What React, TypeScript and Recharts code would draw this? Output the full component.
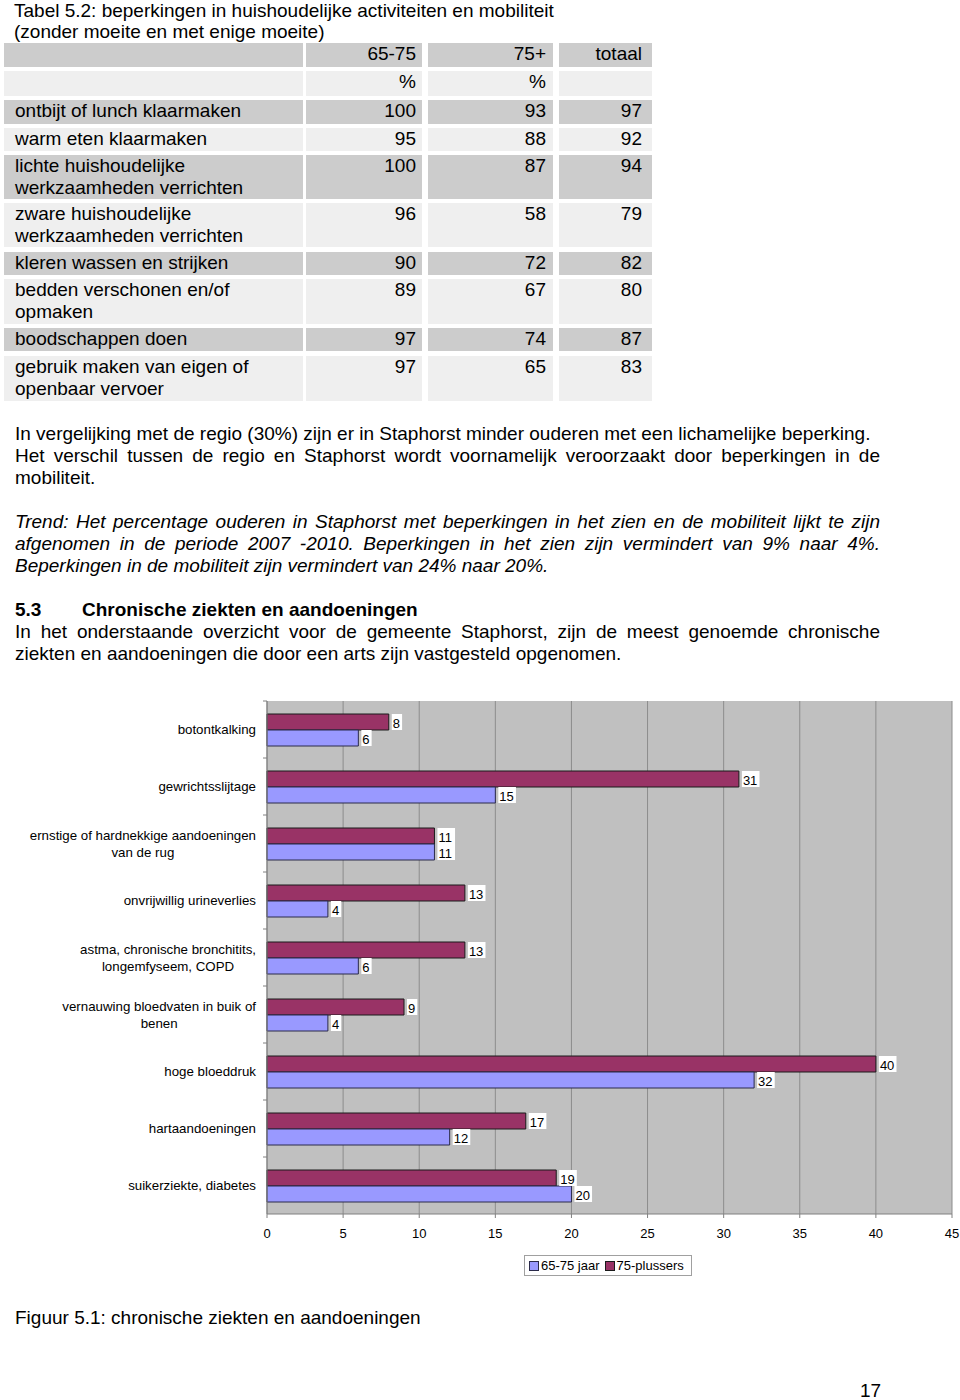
import React from "react";
import { BarChart, Bar, XAxis, YAxis, CartesianGrid, LabelList } from "recharts";

// chart data (figuur 5.1)
const categories = [
  "botontkalking",
  "gewrichtsslijtage",
  "ernstige of hardnekkige aandoeningen\nvan de rug",
  "onvrijwillig urineverlies",
  "astma, chronische bronchitits,\nlongemfyseem, COPD",
  "vernauwing bloedvaten in buik of\nbenen",
  "hoge bloeddruk",
  "hartaandoeningen",
  "suikerziekte, diabetes",
];
const age6575 = [6, 15, 11, 4, 6, 4, 32, 12, 20];
const plus75 = [8, 31, 11, 13, 13, 9, 40, 17, 19];
const xTicks = [0, 5, 10, 15, 20, 25, 30, 35, 40, 45];

// tabel 5.2
const tableHeader = ["", "65-75", "75+", "totaal"];
const tableUnits = ["", "%", "%", ""];
const tableLabels = [
  "ontbijt of lunch klaarmaken",
  "warm eten klaarmaken",
  "lichte huishoudelijke\nwerkzaamheden verrichten",
  "zware huishoudelijke\nwerkzaamheden verrichten",
  "kleren wassen en strijken",
  "bedden verschonen en/of\nopmaken",
  "boodschappen doen",
  "gebruik maken van eigen of\nopenbaar vervoer",
];
const table6575 = [100, 95, 100, 96, 90, 89, 97, 97];
const table75 = [93, 88, 87, 58, 72, 67, 74, 65];
const tableTotal = [97, 92, 94, 79, 82, 80, 87, 83];

const chartData = categories.map((name, i) => ({
  name,
  age6575: age6575[i],
  plus75: plus75[i],
}));

const FONT = '"Liberation Sans", Arial, Helvetica, sans-serif';
const MAROON = "#993366";
const BLUE = "#9999ff";
const TEXT_SIZE = 19;

// layout of the table cells (page pixels)
const cols = [
  { left: 4, width: 299, pad: 11, align: "left" as const },
  { left: 306, width: 116, pad: 6, align: "right" as const },
  { left: 428, width: 125, pad: 7, align: "right" as const },
  { left: 559, width: 93, pad: 10, align: "right" as const },
];
const rows = [
  { top: 43, h: 24 },
  { top: 71, h: 25 },
  { top: 100, h: 24 },
  { top: 128, h: 23 },
  { top: 155, h: 44 },
  { top: 203, h: 44 },
  { top: 252, h: 23 },
  { top: 279, h: 45 },
  { top: 328, h: 23 },
  { top: 356, h: 45 },
];

let measureCtx: CanvasRenderingContext2D | null = null;
function textWidth(s: string) {
  if (!measureCtx) {
    measureCtx = document.createElement("canvas").getContext("2d");
  }
  if (!measureCtx) return s.length * 6.5;
  measureCtx.font = `13.3px ${FONT}`;
  return measureCtx.measureText(s).width;
}

function CategoryTick(props: any) {
  const { x, y, payload } = props;
  const lines = String(payload.value).split("\n");
  const maxW = Math.max(...lines.map(textWidth));
  const cx = x - 3 - maxW / 2;
  const lh = 17;
  const start = y - ((lines.length - 1) * lh) / 2;
  return (
    <g>
      <line x1={x + 4} x2={x + 8} y1={y - 28.5} y2={y - 28.5} stroke="#808080" />
      {lines.map((l, i) => (
        <text
          key={i}
          x={cx}
          y={start + i * lh}
          textAnchor="middle"
          dominantBaseline="central"
          fontSize={13.3}
          fontFamily={FONT}
          fill="#000"
        >
          {l}
        </text>
      ))}
    </g>
  );
}

function ValueLabel(props: any) {
  const { x, y, width, height, value } = props;
  const s = String(value);
  const w = s.length * 7.3 + 3;
  const bx = x + width + 3;
  return (
    <g>
      <rect x={bx} y={y} width={w} height={height} fill="#fff" />
      <text
        x={bx + 1}
        y={y + height / 2 + 1}
        dominantBaseline="central"
        fontSize={13}
        fontFamily={FONT}
        fill="#000"
      >
        {s}
      </text>
    </g>
  );
}

function Cell({ row, col, text, fill }: { row: number; col: number; text: string; fill: string }) {
  const r = rows[row];
  const c = cols[col];
  return (
    <div
      style={{
        position: "absolute",
        left: c.left,
        top: r.top,
        width: c.width,
        height: r.h,
        background: fill,
        boxSizing: "border-box",
        paddingLeft: c.align === "left" ? c.pad : 0,
        paddingRight: c.align === "right" ? c.pad : 0,
        paddingTop: 0,
        textAlign: c.align,
        fontSize: TEXT_SIZE,
        lineHeight: "22px",
        whiteSpace: "pre",
      }}
    >
      {text}
    </div>
  );
}

function Line({ top, text, justify, italic, bold }: any) {
  return (
    <div
      style={{
        position: "absolute",
        left: 15,
        top,
        width: 865,
        fontSize: TEXT_SIZE,
        lineHeight: "22px",
        whiteSpace: "nowrap",
        textAlign: justify ? "justify" : "left",
        textAlignLast: justify ? "justify" : "left",
        fontStyle: italic ? "italic" : "normal",
        fontWeight: bold ? "bold" : "normal",
      }}
    >
      {text}
    </div>
  );
}

export default function App() {
  const gray = "#cccccc";
  const light = "#efefef";
  const cells: React.ReactNode[] = [];
  const allRows = [
    tableHeader,
    tableUnits,
    ...tableLabels.map((l, i) => [l, String(table6575[i]), String(table75[i]), String(tableTotal[i])]),
  ];
  allRows.forEach((r, ri) => {
    r.forEach((t, ci) => {
      cells.push(
        <Cell key={`${ri}-${ci}`} row={ri} col={ci} text={t} fill={ri % 2 === 0 ? gray : light} />
      );
    });
  });

  return (
    <div
      style={{
        position: "absolute",
        left: 0,
        top: 0,
        width: 960,
        height: 1400,
        background: "#fff",
        fontFamily: FONT,
        color: "#000",
        overflow: "hidden",
      }}
    >
      <div style={{ position: "absolute", left: 14, top: 0, fontSize: TEXT_SIZE, lineHeight: "21px" }}>
        Tabel 5.2: beperkingen in huishoudelijke activiteiten en mobiliteit
        <br />
        (zonder moeite en met enige moeite)
      </div>
      {cells}

      <Line top={423} text="In vergelijking met de regio (30%) zijn er in Staphorst minder ouderen met een lichamelijke beperking." />
      <Line top={445} justify text="Het verschil tussen de regio en Staphorst wordt voornamelijk veroorzaakt door beperkingen in de" />
      <Line top={467} text="mobiliteit." />

      <Line top={511} justify italic text="Trend: Het percentage ouderen in Staphorst met beperkingen in het zien en de mobiliteit lijkt te zijn" />
      <Line top={533} justify italic text="afgenomen in de periode 2007 -2010. Beperkingen in het zien zijn vermindert van 9% naar 4%." />
      <Line top={555} italic text="Beperkingen in de mobiliteit zijn vermindert van 24% naar 20%." />

      <div style={{ position: "absolute", left: 15, top: 599, fontSize: TEXT_SIZE, lineHeight: "22px", fontWeight: "bold" }}>
        5.3
      </div>
      <div style={{ position: "absolute", left: 82, top: 599, fontSize: TEXT_SIZE, lineHeight: "22px", fontWeight: "bold" }}>
        Chronische ziekten en aandoeningen
      </div>
      <Line top={621} justify text="In het onderstaande overzicht voor de gemeente Staphorst, zijn de meest genoemde chronische" />
      <Line top={643} text="ziekten en aandoeningen die door een arts zijn vastgesteld opgenomen." />

      <div style={{ position: "absolute", left: 0, top: 690 }}>
        <BarChart
          width={960}
          height={560}
          data={chartData}
          layout="vertical"
          margin={{ top: 11, right: 8, left: 0, bottom: 6 }}
          barSize={16}
          barGap={0}
        >
          <CartesianGrid horizontal={false} fill="#c0c0c0" stroke="#8c8c8c" fillOpacity={1} />
          <XAxis
            type="number"
            domain={[0, 45]}
            ticks={xTicks}
            interval={0}
            height={30}
            tickSize={4}
            tickMargin={11}
            axisLine={{ stroke: "#808080" }}
            tickLine={{ stroke: "#808080" }}
            tick={{ fontSize: 13, fontFamily: FONT, fill: "#000" }}
          />
          <YAxis
            type="category"
            dataKey="name"
            width={267}
            interval={0}
            axisLine={{ stroke: "#808080" }}
            tickLine={false}
            tick={<CategoryTick />}
          />
          <Bar dataKey="plus75" fill={MAROON} stroke="#1a1a1a" strokeWidth={1} isAnimationActive={false}>
            <LabelList dataKey="plus75" content={<ValueLabel />} />
          </Bar>
          <Bar dataKey="age6575" fill={BLUE} stroke="#2a2a4a" strokeWidth={1} isAnimationActive={false}>
            <LabelList dataKey="age6575" content={<ValueLabel />} />
          </Bar>
        </BarChart>
      </div>

      <div
        style={{
          position: "absolute",
          left: 524,
          top: 1255,
          width: 168,
          height: 21,
          boxSizing: "border-box",
          border: "1px solid #a0a0a0",
          background: "#fff",
          fontSize: 13,
          lineHeight: "19px",
          display: "flex",
          alignItems: "center",
          paddingLeft: 4,
        }}
      >
        <span style={{ width: 8, height: 8, background: BLUE, border: "1px solid #2a2a4a", marginRight: 2 }} />
        <span style={{ marginRight: 5 }}>65-75 jaar</span>
        <span style={{ width: 8, height: 8, background: MAROON, border: "1px solid #1a1a1a", marginRight: 2 }} />
        <span>75-plussers</span>
      </div>

      <div style={{ position: "absolute", left: 15, top: 1307, fontSize: TEXT_SIZE, lineHeight: "22px" }}>
        Figuur 5.1: chronische ziekten en aandoeningen
      </div>
      <div style={{ position: "absolute", left: 860, top: 1380, fontSize: TEXT_SIZE, lineHeight: "22px" }}>17</div>
    </div>
  );
}
